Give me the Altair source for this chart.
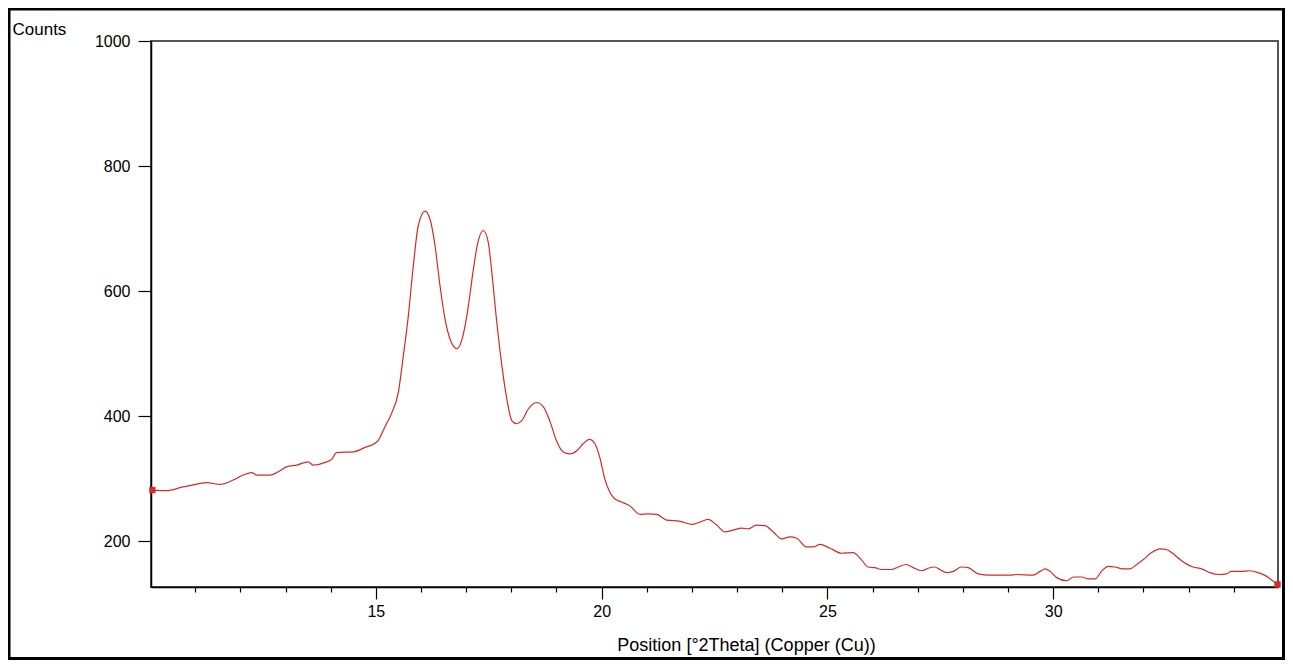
import altair as alt
import pandas as pd

# ---- data ----
two_theta = [
    10.05, 10.36, 10.73, 10.88, 11.25, 11.55, 11.84, 12.06, 12.25, 12.36,
    12.65, 12.88, 13.02, 13.25, 13.50, 13.61, 13.91, 14.02, 14.13, 14.50,
    14.79, 14.94, 15.05, 15.20, 15.35, 15.50, 15.60, 15.72, 15.83, 15.94,
    16.09, 16.20, 16.31, 16.42, 16.53, 16.64, 16.80, 16.93, 17.04, 17.15,
    17.26, 17.38, 17.49, 17.56, 17.67, 17.78, 17.90, 18.01, 18.12, 18.23,
    18.38, 18.56, 18.71, 18.86, 19.00, 19.15, 19.30, 19.45, 19.59, 19.73,
    19.85, 19.96, 20.07, 20.18, 20.29, 20.44, 20.62, 20.85, 21.03, 21.22,
    21.44, 21.74, 22.00, 22.18, 22.36, 22.55, 22.73, 22.91, 23.10, 23.25,
    23.43, 23.62, 23.80, 23.99, 24.17, 24.32, 24.54, 24.69, 24.83, 25.06,
    25.31, 25.57, 25.76, 25.90, 26.05, 26.20, 26.42, 26.57, 26.74, 26.90,
    27.09, 27.23, 27.38, 27.49, 27.64, 27.79, 27.97, 28.12, 28.34, 28.60,
    29.04, 29.19, 29.56, 29.71, 29.82, 29.93, 30.08, 30.30, 30.45, 30.63,
    30.78, 30.93, 31.07, 31.22, 31.37, 31.55, 31.70, 31.85, 32.00, 32.18,
    32.37, 32.51, 32.66, 32.81, 32.95, 33.10, 33.29, 33.47, 33.69, 33.84,
    33.95, 34.14, 34.36, 34.54, 34.73, 34.88, 34.97,
]
counts = [
    282, 281, 287, 289, 294, 291, 298, 306, 310, 306,
    306, 313, 319, 322, 327, 322, 327, 331, 342, 343,
    351, 355, 361, 383, 405, 439, 492, 561, 641, 705,
    728, 715, 673, 609, 556, 524, 508, 529, 572, 630,
    678, 697, 678, 636, 556, 487, 428, 393, 388, 393,
    412, 422, 415, 391, 361, 343, 340, 345, 356, 363,
    356, 334, 300, 279, 268, 263, 257, 243, 244, 243,
    234, 232, 227, 231, 235, 226, 215, 218, 221, 220,
    226, 225, 215, 204, 207, 205, 191, 191, 195, 189,
    181, 182, 170, 159, 158, 155, 155, 159, 163, 158,
    153, 157, 159, 155, 150, 152, 159, 158, 148, 146,
    146, 147, 146, 152, 156, 152, 142, 137, 143, 143,
    140, 140, 152, 160, 159, 156, 156, 163, 171, 182,
    188, 187, 180, 171, 164, 159, 156, 150, 147, 148,
    152, 152, 153, 150, 144, 136, 131,
]

x_major_ticks = [15, 20, 25, 30]
x_minor_ticks = [11, 12, 13, 14, 16, 17, 18, 19, 21, 22, 23, 24,
                 26, 27, 28, 29, 31, 32, 33, 34]
y_ticks = [200, 400, 600, 800, 1000]
x_domain = [10.02, 34.98]
y_domain = [127, 1000]

x_title = "Position [°2Theta] (Copper (Cu))"
y_title = "Counts"

df = pd.DataFrame({"x": two_theta, "y": counts})
ends = df.iloc[[0, -1]].reset_index(drop=True)

W, H = 1127, 546
FONT = "Liberation Sans"
RED = "#d42a2a"

xscale = alt.Scale(domain=x_domain, nice=False, zero=False)
yscale = alt.Scale(domain=y_domain, nice=False, zero=False)

line = alt.Chart(df).mark_line(color=RED, strokeWidth=1.2, interpolate="monotone").encode(
    x=alt.X("x:Q", scale=xscale,
            axis=alt.Axis(values=x_major_ticks, format="d", tickSize=12, labelPadding=4,
                          labelFontSize=16, labelColor="black", grid=False,
                          domainColor="black", domainWidth=1.5,
                          tickColor="black", tickWidth=1.2, orient="bottom",
                          title=x_title, titleFontSize=18, titleFontWeight="normal",
                          titleColor="black", titleX=595, titleY=63,
                          titleAlign="center", titleBaseline="alphabetic")),
    y=alt.Y("y:Q", scale=yscale,
            axis=alt.Axis(values=y_ticks, format="d", tickSize=13, labelPadding=8,
                          labelFontSize=16, labelColor="black", grid=False,
                          domainColor="black", domainWidth=1.5,
                          tickColor="black", tickWidth=1.2,
                          title=y_title, titleFontSize=17, titleFontWeight="normal",
                          titleColor="black", titleAngle=0, titleX=-139, titleY=-7,
                          titleAlign="left", titleBaseline="alphabetic")),
)

markers = alt.Chart(ends).mark_square(color=RED, size=40, opacity=1).encode(
    x=alt.X("x:Q", scale=xscale,
            axis=alt.Axis(values=x_minor_ticks, labels=False, domain=False,
                          tickSize=5, tickColor="black", tickWidth=1.2,
                          grid=False, orient="bottom", title=None)),
    y=alt.Y("y:Q", scale=yscale),
)

frame = alt.Chart(pd.DataFrame({"k": [0]})).mark_rect(
    fillOpacity=0, stroke="black", strokeWidth=3, clip=False
).encode(
    x=alt.value(-142), x2=alt.value(1132.5),
    y=alt.value(-32), y2=alt.value(617.5),
)

chart = (
    alt.layer(line, markers, frame)
    .resolve_scale(x="shared")
    .resolve_axis(x="independent")
    .properties(
        width=W, height=H,
        autosize=alt.AutoSizeParams(type="none"),
        padding={"left": 143, "top": 33, "right": 7, "bottom": 73},
        background="white",
    )
    .configure(font=FONT)
    .configure_view(stroke="#555555", strokeWidth=2)
)

chart.save("out.html", embed_options={"renderer": "svg", "actions": False})
